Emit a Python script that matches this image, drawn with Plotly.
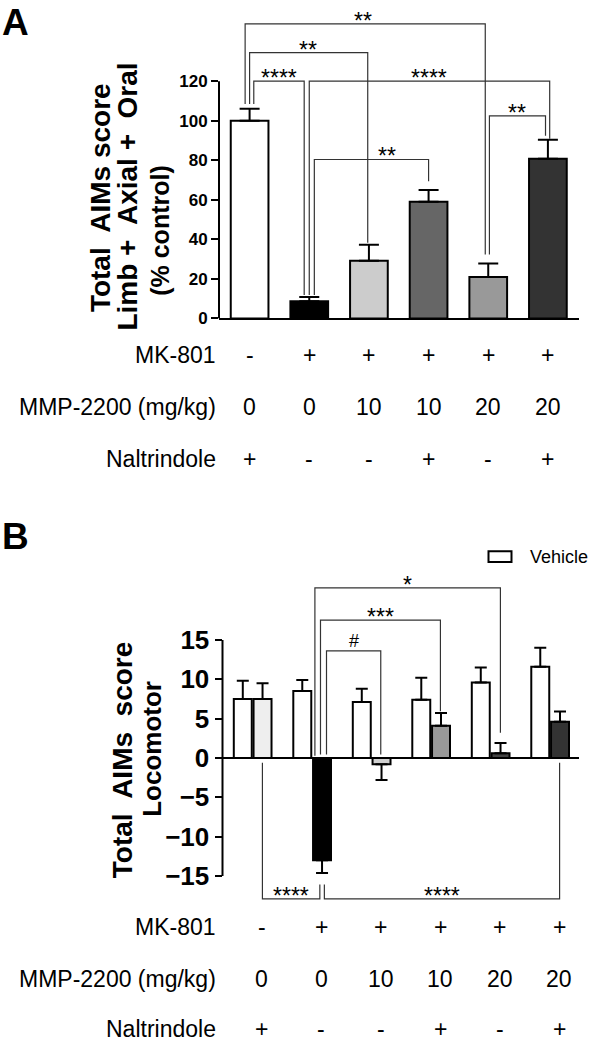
import plotly.graph_objects as go

W, H = 591, 1050
FONT = "Arial, Liberation Sans, sans-serif"

# ---------------- data ----------------
groups = [0, 1, 2, 3, 4, 5]
mk801 = ['-', '+', '+', '+', '+', '+']
mmp2200 = ['0', '0', '10', '10', '20', '20']
naltrindole = ['+', '-', '-', '+', '-', '+']
row_labels = ['MK-801', 'MMP-2200 (mg/kg)', 'Naltrindole']

# Panel A: Total AIMs score (Limb + Axial + Oral), % control
A_mean = [100.0, 8.7, 29.2, 59.0, 21.0, 80.8]
A_err = [6.0, 2.2, 8.1, 6.0, 6.8, 9.6]
A_colors = ['#ffffff', '#000000', '#cccccc', '#666666', '#999999', '#333333']

# Panel B: Total AIMs score, Locomotor
B_vehicle = [7.5, 8.5, 7.1, 7.4, 9.6, 11.6]
B_vehicle_err = [2.3, 1.4, 1.7, 2.8, 1.9, 2.4]
B_treat = [7.5, -13.0, -0.8, 4.1, 0.6, 4.6]
B_treat_err = [2.0, 1.6, 2.0, 1.6, 1.3, 1.3]
B_colors = ['#eeeeee', '#000000', '#d0d0d0', '#999999', '#444444', '#333333']

# significance brackets: (x_left, x_right, y_top, y_left_end, y_right_end, label, label_x)
A_brackets = [
    (-0.075, 3.95, 149.0, 108.5, 32.3, '**', 1.9),
    (0.0, 1.98, 134.5, 108.5, 38.3, '**', 0.98),
    (0.07, 0.915, 120.0, 108.5, 11.8, '****', 0.496),
    (1.0, 5.03, 120.0, 11.8, 90.9, '****', 3.015),
    (1.085, 3.0, 80.4, 11.8, 69.4, '**', 2.3),
    (4.02, 4.96, 102.5, 32.3, 92.4, '**', 4.49),
]
B_brackets_top = [
    (1.046, 4.164, 21.6, 0.3, 3.2, '*', 2.6),
    (1.140, 3.156, 17.5, 0.45, 5.95, '***', 2.148),
    (1.241, 2.153, 13.6, 0.45, 0.45, '#', 1.697),
]
# bottom brackets: (x_left, x_right, y_bottom, y_left_end, y_right_end, label)
B_brackets_bottom = [
    (0.164, 1.129, -17.9, -0.6, -16.06, '****'),
    (1.205, 5.159, -17.9, -16.06, -0.6, '****'),
]


def px_x(p):
    return p / W


def px_y(p):
    return 1 - p / H


fig = go.Figure()

# ---------------- Panel A ----------------
A_y0, A_ppu = 321.5, 1.996
A_top_px = 8
fig.add_trace(go.Bar(
    x=groups, y=A_mean, width=0.632, offset=-0.316,
    marker=dict(color=A_colors, line=dict(color='black', width=2)),
    error_y=dict(type='data', symmetric=False, array=A_err,
                 arrayminus=[0] * len(A_err), color='black', thickness=2, width=10),
    xaxis='x', yaxis='y', showlegend=False,
))

# ---------------- Panel B ----------------
B_y0, B_ppu = 765.3, 7.95
B_top_px, B_bot_px = 575, 922
fig.add_trace(go.Bar(
    x=groups, y=B_vehicle, width=0.302, offset=-0.317, name='Vehicle',
    marker=dict(color='#ffffff', line=dict(color='black', width=2)),
    error_y=dict(type='data', symmetric=False,
                 array=[e if v >= 0 else 0 for v, e in zip(B_vehicle, B_vehicle_err)],
                 arrayminus=[e if v < 0 else 0 for v, e in zip(B_vehicle, B_vehicle_err)],
                 color='black', thickness=2, width=6),
    xaxis='x2', yaxis='y2', showlegend=False,
))
fig.add_trace(go.Bar(
    x=groups, y=B_treat, width=0.302, offset=0.015,
    marker=dict(color=B_colors, line=dict(color='black', width=2)),
    error_y=dict(type='data', symmetric=False,
                 array=[e if v >= 0 else 0 for v, e in zip(B_treat, B_treat_err)],
                 arrayminus=[e if v < 0 else 0 for v, e in zip(B_treat, B_treat_err)],
                 color='black', thickness=2, width=6),
    xaxis='x2', yaxis='y2', showlegend=False,
))

tickfontA = dict(family=FONT, size=17, color='black', weight='bold')
tickfontB = dict(family=FONT, size=26, color='black', weight='bold')

fig.update_layout(
    width=W, height=H, margin=dict(l=0, r=0, t=0, b=0),
    paper_bgcolor='white', plot_bgcolor='white',
    barmode='overlay', showlegend=False,
    font=dict(family=FONT, color='black'),
    xaxis=dict(domain=[px_x(219), px_x(578.8)], range=[-0.513, 5.518],
               showticklabels=False, ticks='', showgrid=False, zeroline=False,
               showline=True, linecolor='black', linewidth=2, anchor='y', fixedrange=True),
    yaxis=dict(domain=[px_y(A_y0), px_y(A_top_px)], range=[0, (A_y0 - A_top_px) / A_ppu],
               tickvals=[0, 20, 40, 60, 80, 100, 120], ticks='outside', ticklen=7,
               tickwidth=2, tickcolor='black', tickfont=tickfontA, showgrid=False,
               zeroline=False, showline=False, anchor='x', fixedrange=True),
    xaxis2=dict(domain=[px_x(222.5), px_x(579)], range=[-0.507, 5.485],
                showticklabels=False, ticks='', showgrid=False, zeroline=False,
                showline=False, anchor='y2', fixedrange=True),
    yaxis2=dict(domain=[px_y(B_bot_px), px_y(B_top_px)],
                range=[-(B_bot_px - B_y0) / B_ppu, (B_y0 - B_top_px) / B_ppu],
                tickvals=[-15, -10, -5, 0, 5, 10, 15], ticks='outside', ticklen=7,
                tickwidth=2, tickcolor='black', tickfont=tickfontB, showgrid=False,
                zeroline=True, zerolinecolor='black', zerolinewidth=2,
                showline=False, anchor='x2', fixedrange=True),
)

shapes = []
# y-axis lines
shapes.append(dict(type='line', xref='paper', yref='y', x0=px_x(219), x1=px_x(219),
                   y0=0, y1=120, line=dict(color='black', width=2)))
shapes.append(dict(type='line', xref='paper', yref='y2', x0=px_x(222.5), x1=px_x(222.5),
                   y0=-15, y1=15, line=dict(color='black', width=2)))

annotations = []
BR = dict(color='#333333', width=1.2)
STAR = dict(family=FONT, size=23, color='black')
for xl, xr, yt, yl, yr, lab, lx in A_brackets:
    shapes.append(dict(type='path', xref='x', yref='y',
                       path=f'M {xl},{yl} L {xl},{yt} L {xr},{yt} L {xr},{yr}', line=BR))
    annotations.append(dict(xref='x', yref='y', x=lx, y=yt, text=lab, showarrow=False,
                            xanchor='center', yanchor='middle', yshift=3, font=STAR))
for xl, xr, yt, yl, yr, lab, lx in B_brackets_top:
    shapes.append(dict(type='path', xref='x2', yref='y2',
                       path=f'M {xl},{yl} L {xl},{yt} L {xr},{yt} L {xr},{yr}', line=BR))
    if lab == '#':
        annotations.append(dict(xref='x2', yref='y2', x=lx, y=yt, text=lab, showarrow=False,
                                xanchor='center', yanchor='middle', yshift=10,
                                font=dict(family=FONT, size=18, color='black')))
    else:
        annotations.append(dict(xref='x2', yref='y2', x=lx, y=yt, text=lab, showarrow=False,
                                xanchor='center', yanchor='middle', yshift=3, font=STAR))
for xl, xr, yb, yl, yr, lab in B_brackets_bottom:
    shapes.append(dict(type='path', xref='x2', yref='y2',
                       path=f'M {xl},{yl} L {xl},{yb} L {xr},{yb} L {xr},{yr}', line=BR))
    annotations.append(dict(xref='x2', yref='y2', x=(xl + xr) / 2, y=yb, text=lab,
                            showarrow=False, xanchor='center', yanchor='middle', yshift=3,
                            font=STAR))

# legend (Vehicle)
shapes.append(dict(type='rect', xref='paper', yref='paper',
                   x0=px_x(488.5), x1=px_x(511.5), y0=px_y(567.5), y1=px_y(556.5),
                   line=dict(color='black', width=2), fillcolor='white'))
annotations.append(dict(xref='paper', yref='paper', x=px_x(590), y=px_y(562),
                        text='Vehicle', showarrow=False, xanchor='right', yanchor='middle',
                        font=dict(family=FONT, size=18, color='black')))

# treatment tables
table_font = dict(family=FONT, size=23, color='black')
rowsA_y = [360.7, 412.5, 465.0]
rowsB_y = [937.5, 990.0, 1040.7]
rows = [mk801, mmp2200, naltrindole]
for r, (lab, vals) in enumerate(zip(row_labels, rows)):
    annotations.append(dict(xref='paper', yref='paper', x=px_x(218), y=px_y(rowsA_y[r]),
                            text=lab, showarrow=False, xanchor='right', yanchor='middle',
                            yshift=2, font=table_font))
    annotations.append(dict(xref='paper', yref='paper', x=px_x(218), y=px_y(rowsB_y[r]),
                            text=lab, showarrow=False, xanchor='right', yanchor='middle',
                            yshift=2, font=table_font))
    for g, v in zip(groups, vals):
        annotations.append(dict(xref='x', yref='paper', x=g, y=px_y(rowsA_y[r]), text=v,
                                showarrow=False, xanchor='center', yanchor='middle',
                                yshift=2, font=table_font))
        annotations.append(dict(xref='x2', yref='paper', x=g + 0.15, y=px_y(rowsB_y[r]),
                                text=v, showarrow=False, xanchor='center', yanchor='middle',
                                yshift=2, font=table_font))


# axis titles
def vtitle(text, xc, yc, size):
    annotations.append(dict(xref='paper', yref='paper', x=px_x(xc), y=px_y(yc), text=text,
                            showarrow=False, textangle=-90, xanchor='center',
                            yanchor='middle',
                            font=dict(family=FONT, size=size, color='black', weight='bold')))


vtitle('Total  AIMs score', 100, 200, 28)
vtitle('Limb +  Axial +  Oral', 128, 198.5, 28)
vtitle('(% control)', 160, 233, 25)
vtitle('Total  AIMs  score', 122, 767.5, 28)
vtitle('Locomotor', 152, 756, 26)

# panel letters
annotations.append(dict(xref='paper', yref='paper', x=0, y=1, text='A',
                        showarrow=False, xanchor='left', yanchor='top',
                        font=dict(family=FONT, size=37, color='black', weight='bold')))
annotations.append(dict(xref='paper', yref='paper', x=0, y=px_y(541.5), text='B',
                        showarrow=False, xanchor='left', yanchor='middle',
                        font=dict(family=FONT, size=37, color='black', weight='bold')))

fig.update_layout(shapes=shapes, annotations=annotations)
fig.write_html(
    "out.html",
    config={'displayModeBar': False},
    post_script="document.body.style.margin='0';document.body.style.overflow='hidden';",
)
